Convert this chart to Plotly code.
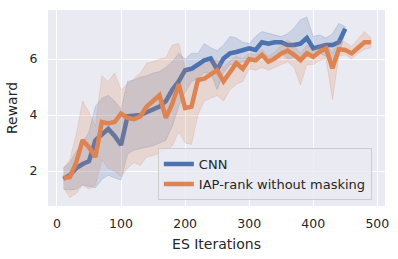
import plotly.graph_objects as go

iters_cnn = list(range(10, 460, 10))
iters_iap = list(range(10, 500, 10))

cnn_mean = [1.72, 1.85, 2.1, 2.25, 2.35, 3.1, 3.3, 3.5, 3.25, 2.93,
            3.95, 3.97, 4.0, 4.1, 4.2, 4.3, 4.5, 4.9, 5.2, 5.6,
            5.65, 5.8, 5.95, 6.02, 5.62, 6.02, 6.2, 6.25, 6.3, 6.38,
            6.32, 6.6, 6.55, 6.6, 6.6, 6.5, 6.5, 6.55, 6.75, 6.38,
            6.44, 6.5, 6.5, 6.6, 7.08]
cnn_lower = [1.35, 1.32, 1.35, 1.5, 1.45, 1.4, 1.7, 1.85, 1.75, 1.68,
             2.6, 2.75, 2.8, 2.85, 2.9, 3.0, 3.1, 3.6, 4.3, 4.8,
             5.2, 5.3, 5.5, 5.5, 4.9, 5.5, 5.8, 5.8, 5.9, 6.0,
             6.0, 6.2, 6.05, 6.1, 6.2, 6.0, 6.05, 6.1, 6.15, 6.1,
             6.2, 6.1, 6.0, 6.1, 7.0]
cnn_upper = [2.1, 2.3, 2.7, 3.0, 3.4, 4.3, 4.6, 4.7, 4.5, 4.2,
             5.2, 5.25, 5.35, 5.4, 5.5, 5.55, 5.7, 5.9, 6.2, 6.0,
             6.2, 6.2, 6.55, 6.4, 6.3, 6.5, 6.8, 6.75, 6.6, 6.55,
             6.8, 6.98, 6.92, 6.85, 6.8, 6.9, 7.1, 7.4, 7.5, 6.8,
             6.86, 6.75, 6.9, 7.27, 7.15]

iap_mean = [1.75, 1.78, 2.3, 3.1, 2.85, 2.5, 3.75, 3.7, 3.75, 4.05,
            3.9, 3.85, 3.95, 4.3, 4.5, 4.7, 3.9, 4.4, 5.1, 4.25,
            4.3, 5.25, 5.3, 5.45, 5.6, 5.2, 5.55, 5.85, 5.65, 6.0,
            5.95, 6.15, 5.9, 6.02, 6.2, 6.3, 6.15, 5.96, 6.2, 6.08,
            6.26, 6.38, 5.67, 6.35, 6.32, 6.2, 6.4, 6.6, 6.6]
iap_lower = [1.4, 1.05, 1.2, 1.5, 1.35, 1.5, 2.4, 2.1, 2.0, 1.8,
             2.1, 2.3, 2.2, 2.5, 2.55, 2.65, 2.75, 2.9, 3.4, 3.0,
             2.95, 4.0, 4.5, 4.6, 4.7, 4.5, 4.9, 5.1, 5.2, 5.65,
             5.6, 5.7, 5.6, 5.7, 5.8, 5.9, 5.7, 5.07, 5.8, 5.8,
             5.95, 6.0, 4.55, 6.1, 6.15, 6.0, 6.2, 6.35, 6.4]
iap_upper = [2.1, 2.4, 3.3, 4.5, 4.1, 3.6, 5.4, 5.2, 5.5, 4.9,
             5.1, 5.3, 5.5, 5.85, 5.9, 6.0, 6.05, 6.5, 6.55, 5.7,
             5.5, 5.7, 5.8, 5.9, 6.0, 5.7, 5.95, 6.1, 6.0, 6.2,
             6.15, 6.35, 6.1, 6.25, 6.5, 6.68, 6.5, 6.2, 6.5, 6.3,
             6.5, 6.55, 6.2, 6.68, 6.6, 6.45, 6.7, 6.98, 6.75]

x_ticks = [0, 100, 200, 300, 400, 500]
y_ticks = [2, 4, 6]

blue = "#4c72b0"
orange = "#dd8452"

fig = go.Figure()

def add_series(x, mean, lo, hi, color, rgba_fill, rgba_edge, name):
    fig.add_trace(go.Scatter(
        x=x + x[::-1], y=hi + lo[::-1], fill="toself",
        fillcolor=rgba_fill, line=dict(color=rgba_edge, width=0.8),
        hoverinfo="skip", showlegend=False, mode="lines"))
    fig.add_trace(go.Scatter(
        x=x, y=mean, mode="lines", name=name,
        line=dict(color=color, width=4.5)))

add_series(iters_cnn, cnn_mean, cnn_lower, cnn_upper, blue,
           "rgba(76,114,176,0.2)", "rgba(76,114,176,0.25)", "CNN")
add_series(iters_iap, iap_mean, iap_lower, iap_upper, orange,
           "rgba(221,132,82,0.2)", "rgba(221,132,82,0.25)", "IAP-rank without masking")

fig.update_layout(
    width=398, height=259,
    margin=dict(l=48, r=13, t=10, b=53, autoexpand=False),
    paper_bgcolor="white", plot_bgcolor="#eaeaf2",
    font=dict(family="DejaVu Sans", color="#262626", size=12),
    legend=dict(x=0.326, y=0.03, xanchor="left", yanchor="bottom",
                bgcolor="rgba(234,234,242,0.8)", bordercolor="#cccccc",
                borderwidth=1, font=dict(size=13), tracegroupgap=0),
    xaxis=dict(range=[-14, 512], tickvals=x_ticks, showgrid=True,
               gridcolor="white", gridwidth=1.3, zeroline=False,
               ticks="outside", ticklen=6, tickcolor="rgba(0,0,0,0)",
               tickfont=dict(size=12.5), automargin=False,
               ticklabeloverflow="allow",
               title=dict(text="ES Iterations", font=dict(size=14), standoff=9)),
    yaxis=dict(range=[0.75, 7.75], tickvals=y_ticks, showgrid=True,
               gridcolor="white", gridwidth=1.3, zeroline=False,
               ticks="outside", ticklen=7, tickcolor="rgba(0,0,0,0)",
               tickfont=dict(size=12.5), automargin=False,
               title=dict(text="Reward", font=dict(size=14), standoff=8)),
)

fig.write_html("out.html",
               config={"displayModeBar": False},
               post_script="document.body.style.margin='0';document.body.style.padding='0';document.body.style.overflow='hidden';")
